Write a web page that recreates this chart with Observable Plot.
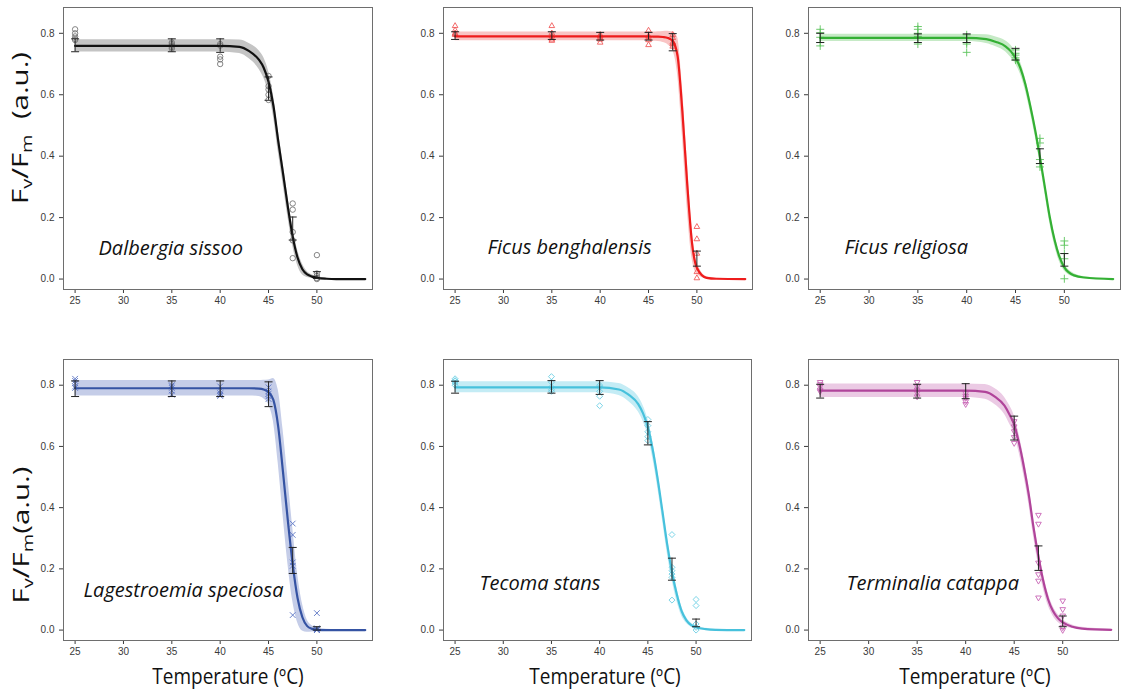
<!DOCTYPE html>
<html><head><meta charset="utf-8">
<script src="https://cdn.jsdelivr.net/npm/d3@7"></script>
<script src="https://cdn.jsdelivr.net/npm/@observablehq/plot@0.6"></script>
<style>
body{margin:0;background:#fff;}
#wrap{position:relative;width:1126px;height:690px;overflow:hidden;background:#fff;}
.panel{position:absolute;}
.ytitle{position:absolute;transform:translate(-50%,-50%) scaleY(1.4) rotate(-90deg);white-space:nowrap;font-family:"Open Sans",sans-serif;font-size:21px;color:#111;line-height:1;}
.xtitle{position:absolute;transform:translate(-50%,-50%) scaleY(1.12);white-space:nowrap;font-family:"Open Sans",sans-serif;font-size:19px;color:#111;line-height:1;}
.ytitle sub{font-size:68%;vertical-align:-0.3em;}
</style></head><body><div id="wrap"></div><script>
// ---- data ----
const species = ["Dalbergia sissoo", "Ficus benghalensis", "Ficus religiosa", "Lagestroemia speciosa", "Tecoma stans", "Terminalia catappa"];
const temps = [25, 35, 40, 45, 47.5, 50];
const xTicks = [25, 30, 35, 40, 45, 50];
const yTicks = [0, 0.2, 0.4, 0.6, 0.8];
const fitT = [25, 40, 42, 43, 44, 44.5, 45, 45.5, 46, 46.5, 47, 47.5, 48, 48.5, 49, 49.5, 50, 51, 52, 55];

const dalbergiaFit = [0.759,0.759,0.756,0.742,0.714,0.688,0.642,0.565,0.450,0.344,0.235,0.138,0.070,0.032,0.015,0.008,0.004,0.001,0.0,0.0];
const dalbergiaBand = [0.02,0.02,0.022,0.025,0.03,0.033,0.035,0.035,0.035,0.035,0.033,0.03,0.025,0.018,0.01,0.006,0.004,0.002,0.001,0.001];
const benghalensisFit = [0.790,0.790,0.790,0.790,0.790,0.790,0.790,0.789,0.789,0.788,0.785,0.775,0.727,0.545,0.31,0.116,0.037,0.004,0.001,0.0];
const benghalensisBand = [0.014,0.014,0.014,0.014,0.014,0.014,0.015,0.015,0.016,0.018,0.022,0.03,0.06,0.08,0.08,0.05,0.02,0.004,0.002,0.001];
const religiosaFit = [0.785,0.785,0.781,0.772,0.757,0.742,0.720,0.687,0.635,0.565,0.487,0.397,0.300,0.203,0.127,0.072,0.038,0.012,0.005,0.0];
const religiosaBand = [0.012,0.012,0.014,0.016,0.018,0.02,0.02,0.02,0.02,0.02,0.02,0.02,0.02,0.02,0.018,0.016,0.012,0.006,0.003,0.001];
const lagerFit = [0.790,0.790,0.790,0.790,0.789,0.786,0.777,0.752,0.665,0.515,0.357,0.215,0.105,0.042,0.013,0.004,0.001,0.0,0.0,0.0];
const lagerBand = [0.025,0.025,0.025,0.025,0.026,0.03,0.04,0.07,0.12,0.14,0.14,0.12,0.08,0.045,0.02,0.01,0.006,0.003,0.002,0.002];
const tecomaFit = [0.793,0.793,0.786,0.769,0.738,0.708,0.663,0.59,0.497,0.39,0.281,0.19,0.117,0.062,0.032,0.016,0.009,0.003,0.001,0.0];
const tecomaBand = [0.018,0.018,0.02,0.022,0.025,0.026,0.027,0.028,0.028,0.028,0.028,0.026,0.022,0.016,0.01,0.007,0.005,0.003,0.002,0.001];
const terminaliaFit = [0.782,0.782,0.778,0.763,0.733,0.705,0.671,0.61,0.533,0.443,0.334,0.24,0.16,0.1,0.062,0.039,0.025,0.011,0.005,0.001];
const terminaliaBand = [0.022,0.022,0.024,0.026,0.028,0.03,0.03,0.03,0.03,0.03,0.03,0.028,0.025,0.02,0.016,0.013,0.01,0.006,0.004,0.002];

// error bar ends per temperature
const dalbergiaLo = [0.74, 0.74, 0.738, 0.582, 0.127, 0.002];
const dalbergiaHi = [0.782, 0.782, 0.782, 0.658, 0.202, 0.024];
const benghalensisLo = [0.78, 0.78, 0.778, 0.778, 0.743, 0.042];
const benghalensisHi = [0.805, 0.805, 0.803, 0.803, 0.799, 0.091];
const religiosaLo = [0.77, 0.77, 0.77, 0.713, 0.376, 0.042];
const religiosaHi = [0.80, 0.798, 0.798, 0.751, 0.424, 0.083];
const lagerLo = [0.763, 0.763, 0.763, 0.73, 0.185, 0.0];
const lagerHi = [0.814, 0.814, 0.814, 0.811, 0.270, 0.011];
const tecomaLo = [0.774, 0.774, 0.77, 0.605, 0.163, 0.011];
const tecomaHi = [0.813, 0.815, 0.815, 0.681, 0.235, 0.036];
const terminaliaLo = [0.758, 0.758, 0.756, 0.621, 0.195, 0.011];
const terminaliaHi = [0.803, 0.803, 0.805, 0.699, 0.275, 0.046];

// replicate measurements per temperature
const dalbergiaPts = [[0.813,0.80,0.79,0.782,0.778],[0.77,0.765,0.76,0.755,0.75],[0.765,0.76,0.724,0.715,0.70],[0.661,0.628,0.617,0.60,0.583],[0.246,0.226,0.153,0.126,0.068],[0.078,0.018,0.01,0.003,0.0]];
const benghalensisPts = [[0.824,0.81,0.80,0.798,0.795],[0.824,0.80,0.79,0.78,0.776],[0.795,0.79,0.785,0.78,0.77],[0.809,0.79,0.785,0.778,0.762],[0.795,0.785,0.77,0.765,0.757],[0.17,0.13,0.083,0.023,0.003]];
const religiosaPts = [[0.813,0.802,0.787,0.77,0.759],[0.822,0.813,0.80,0.79,0.765],[0.795,0.785,0.77,0.765,0.738],[0.746,0.735,0.729,0.72,0.713],[0.458,0.443,0.389,0.376,0.365],[0.124,0.11,0.083,0.066,0.001]];
const lagerPts = [[0.821,0.814,0.806,0.796,0.791],[0.80,0.796,0.791,0.782,0.769],[0.796,0.782,0.774,0.769,0.765],[0.793,0.78,0.772,0.764,0.755],[0.348,0.311,0.221,0.21,0.049],[0.0555,0.006,0.003,0.0,0.0]];
const tecomaPts = [[0.821,0.815,0.813,0.807,0.80],[0.828,0.81,0.794,0.785,0.78],[0.80,0.794,0.78,0.764,0.733],[0.688,0.668,0.648,0.632,0.619],[0.312,0.205,0.194,0.183,0.172,0.098],[0.10,0.08,0.02,0.009,0.0]];
const terminaliaPts = [[0.81,0.803,0.796,0.785,0.78],[0.81,0.796,0.785,0.775,0.763],[0.774,0.765,0.758,0.747,0.738],[0.682,0.665,0.649,0.63,0.611],[0.376,0.347,0.22,0.182,0.161,0.106],[0.096,0.068,0.047,0.009,0.0]];

// ---- layout / style ----
const panels = [
  {name: species[0], fit: dalbergiaFit, band: dalbergiaBand, lo: dalbergiaLo, hi: dalbergiaHi, pts: dalbergiaPts,
   color: "#111111", bandColor: "#c4c4c4", ptColor: "#777777", symbol: "circle", rotate: 0, L: 62.5, T: 7, W: 309, H: 282, dx: 35, dy: 35},
  {name: species[1], fit: benghalensisFit, band: benghalensisBand, lo: benghalensisLo, hi: benghalensisHi, pts: benghalensisPts,
   color: "#ee1c1c", bandColor: "#f9c4c4", ptColor: "#f05a5a", symbol: "triangle2", rotate: 0, L: 442.5, T: 7, W: 309, H: 282, dx: 44, dy: 36},
  {name: species[2], fit: religiosaFit, band: religiosaBand, lo: religiosaLo, hi: religiosaHi, pts: religiosaPts,
   color: "#34b034", bandColor: "#c6eac6", ptColor: "#5cc45c", symbol: "plus", rotate: 0, L: 808, T: 7, W: 312, H: 282, dx: 36, dy: 36},
  {name: species[3], fit: lagerFit, band: lagerBand, lo: lagerLo, hi: lagerHi, pts: lagerPts,
   color: "#3553a3", bandColor: "#c5cde8", ptColor: "#5a74c4", symbol: "times", rotate: 0, L: 62.5, T: 358.5, W: 309, H: 281, dx: 20, dy: 44},
  {name: species[4], fit: tecomaFit, band: tecomaBand, lo: tecomaLo, hi: tecomaHi, pts: tecomaPts,
   color: "#47c1dc", bandColor: "#c4ecf5", ptColor: "#6ccfe4", symbol: "diamond2", rotate: 0, L: 443, T: 358.5, W: 308, H: 281, dx: 36, dy: 51},
  {name: species[5], fit: terminaliaFit, band: terminaliaBand, lo: terminaliaLo, hi: terminaliaHi, pts: terminaliaPts,
   color: "#b0449a", bandColor: "#ebcae4", ptColor: "#c865b6", symbol: "triangle2", rotate: 180, L: 808, T: 358.5, W: 310, H: 281, dx: 38, dy: 51}
];

const wrap = document.getElementById("wrap");
const mL = 42, mR = 6, mT = 6, mB = 30;
const cap = {draw(ctx, size) { const r = Math.sqrt(size / Math.PI); ctx.moveTo(-r, 0); ctx.lineTo(r, 0); }};

for (const p of panels) {
  const fitRows = fitT.map((t, i) => ({t, v: p.fit[i], lo: p.fit[i] - p.band[i], hi: p.fit[i] + p.band[i]}));
  const ptRows = temps.flatMap((t, i) => p.pts[i].map(v => ({t, v})));
  const barRows = temps.map((t, i) => ({t, lo: p.lo[i], hi: p.hi[i]}));
  const svg = Plot.plot({
    width: p.W + mL + mR, height: p.H + mT + mB,
    marginLeft: mL, marginRight: mR, marginTop: mT, marginBottom: mB,
    style: {fontFamily: "'Liberation Sans', Arial, sans-serif", fontSize: "10px", color: "#3a3a3a", background: "transparent", overflow: "visible"},
    x: {domain: [23.8, 55.75], ticks: xTicks, tickSize: 4, tickPadding: 3, label: null},
    y: {domain: [-0.034, 0.884], ticks: yTicks, tickFormat: d3.format(".1f"), tickSize: 4, tickPadding: 5, label: null},
    marks: [
      Plot.areaY(fitRows, {x: "t", y1: "lo", y2: "hi", fill: p.bandColor, curve: "monotone-x"}),
      Plot.dot(ptRows, {x: "t", y: "v", symbol: p.symbol, rotate: p.rotate, r: 2.7, fill: "none", stroke: p.ptColor, strokeWidth: 0.9}),
      Plot.line(fitRows, {x: "t", y: "v", stroke: p.color, strokeWidth: 2.2, curve: "monotone-x"}),
      Plot.ruleX(barRows, {x: "t", y1: "lo", y2: "hi", stroke: "#222", strokeWidth: 1}),
      Plot.dot(barRows, {x: "t", y: "lo", symbol: cap, r: 4, fill: "none", stroke: "#222", strokeWidth: 1}),
      Plot.dot(barRows, {x: "t", y: "hi", symbol: cap, r: 4, fill: "none", stroke: "#222", strokeWidth: 1}),
      Plot.frame({stroke: "#6e6e6e", strokeWidth: 1}),
      Plot.text([p.name], {text: d => d, frameAnchor: "bottom-left", dx: p.dx, dy: -p.dy, textAnchor: "start",
        fontStyle: "italic", fontSize: 20, fontFamily: "'Open Sans', sans-serif", fill: "#111"})
    ]
  });
  svg.classList.add("panel");
  svg.style.left = (p.L - mL) + "px";
  svg.style.top = (p.T - mT) + "px";
  wrap.appendChild(svg);
}

// axis titles
function addDiv(cls, html, x, y) {
  const d = document.createElement("div");
  d.className = cls; d.innerHTML = html;
  d.style.left = x + "px"; d.style.top = y + "px";
  wrap.appendChild(d);
}
addDiv("ytitle", "F<sub>v</sub>/F<sub>m</sub>&nbsp; (a.u.)", 22, 128);
addDiv("ytitle", "F<sub>v</sub>/F<sub>m</sub>(a.u.)", 23, 535);
addDiv("xtitle", "Temperature (ºC)", 228, 677);
addDiv("xtitle", "Temperature (ºC)", 605, 677);
addDiv("xtitle", "Temperature (ºC)", 975, 677);
</script></body></html>
